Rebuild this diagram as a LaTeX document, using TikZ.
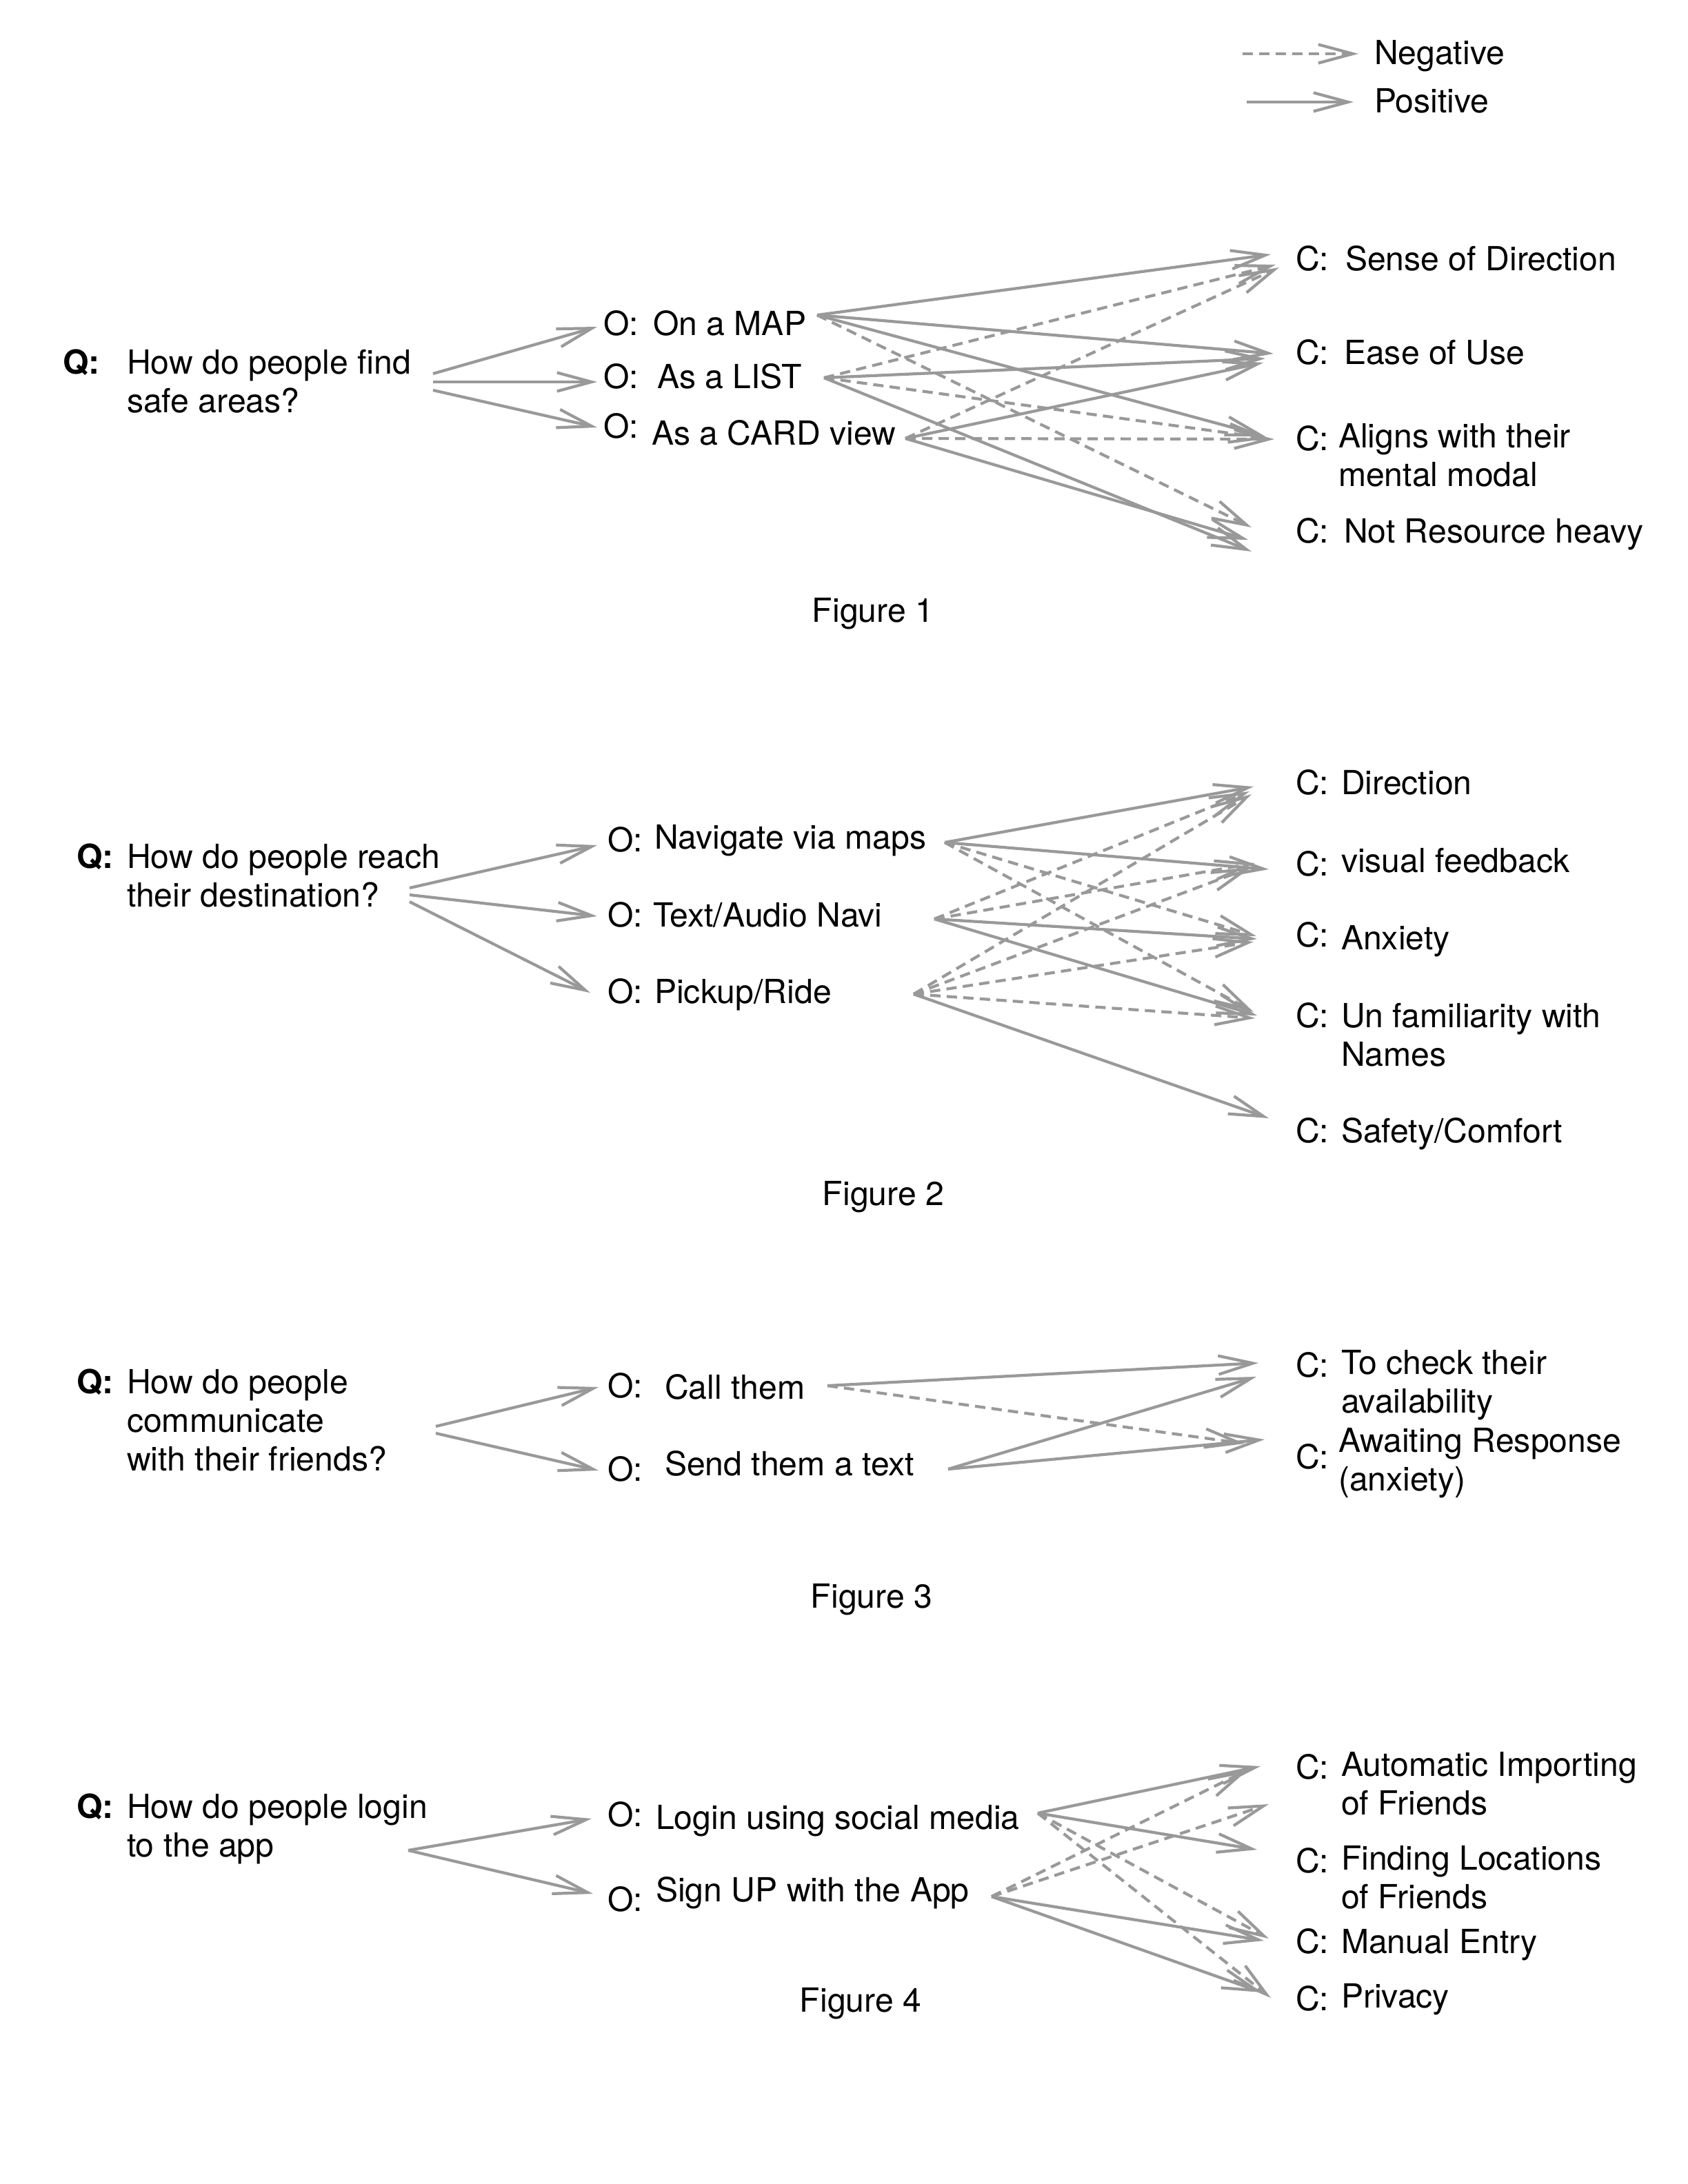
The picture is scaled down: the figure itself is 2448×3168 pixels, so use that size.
\documentclass[tikz,border=0pt]{standalone}
\usepackage{fontspec}
\setmainfont{TeX Gyre Heros}
\usetikzlibrary{arrows.meta,calc}
\definecolor{linkgray}{RGB}{153,153,153}
% several lines in one node, baseline on the first line
\newcommand\cellblock[1]{\begin{tabular}[t]{@{}l@{}}#1\end{tabular}}
\begin{document}
\begin{tikzpicture}[x=0.01cm,y=-0.01cm,
  every node/.style={inner sep=0pt,outer sep=0pt,anchor=base west,
    font=\fontsize{13.7}{16}\selectfont},
  qlabel/.style={font=\fontsize{13.7}{16}\selectfont\bfseries},
  caption/.style={anchor=base},
  posarrow/.style={draw=linkgray,line width=1.2pt,
    -{Straight Barb[length=0.5cm,width=0.27cm]}},
  negarrow/.style={posarrow,dash pattern=on 0.15cm off 0.09cm}]

\fill[white] (0,0) rectangle (2448,3168);
\useasboundingbox (0,0) rectangle (2448,3168);

% ---------- legend ----------
\coordinate (lgnegA) at (1802,78);  \coordinate (lgnegB) at (1970,78);
\coordinate (lgposA) at (1808,148); \coordinate (lgposB) at (1963,148);
\node (lgneg) at (1993,93) {Negative};
\node (lgpos) at (1993,163) {Positive};
\draw[negarrow] (lgnegA) -- (lgnegB);
\draw[posarrow] (lgposA) -- (lgposB);

% ---------- figure 1 ----------
\node[qlabel] (q1l) at (91,542) {Q:};
\node (q1) at (184,542) {\cellblock{How do people find\\safe areas?}};
\node (o1mapl)  at (875,486) {O:}; \node (o1map)  at (947,486) {On a MAP};
\node (o1listl) at (875,563) {O:}; \node (o1list) at (953,563) {As a LIST};
\node (o1cardl) at (875,635) {O:}; \node (o1card) at (945,645) {As a CARD view};
\node (c1sensel) at (1879,392) {C:}; \node (c1sense) at (1951,392) {Sense of Direction};
\node (c1easel)  at (1879,528) {C:}; \node (c1ease)  at (1949,528) {Ease of Use};
\node (c1alignl) at (1879,653) {C:}; \node (c1align) at (1941,649) {\cellblock{Aligns with their\\mental modal}};
\node (c1resl)   at (1879,787) {C:}; \node (c1res)   at (1949,787) {Not Resource heavy};
\node[caption] (fig1) at (1266,902) {Figure 1};

\coordinate (q1o) at (628,554);
\coordinate (o1mapi) at (866,474); \coordinate (o1listi) at (866,554); \coordinate (o1cardi) at (866,620);
\coordinate (o1mapo) at (1185,457); \coordinate (o1listo) at (1195,548); \coordinate (o1cardo) at (1313,636);
\coordinate (c1sensei) at (1843,369); \coordinate (c1easei) at (1847,513);
\coordinate (c1aligni) at (1848,637); \coordinate (c1resi) at (1815,783);

\draw[posarrow] ($(q1o)+(0,-12)$) -- (o1mapi);
\draw[posarrow] (q1o) -- (o1listi);
\draw[posarrow] ($(q1o)+(0,12)$) -- (o1cardi);
\draw[posarrow] (o1mapo) -- (c1sensei);
\draw[posarrow] (o1mapo) -- (c1easei);
\draw[posarrow] (o1mapo) -- ($(c1aligni)+(-13,-4)$);
\draw[negarrow] (o1mapo) -- ($(c1resi)+(0,-18)$);
\draw[negarrow] (o1listo) -- ($(c1sensei)+(7,15)$);
\draw[posarrow] (o1listo) -- ($(c1easei)+(-12,7)$);
\draw[negarrow] (o1listo) -- ($(c1aligni)+(-8,-1)$);
\draw[posarrow] (o1listo) -- ($(c1resi)+(0,17)$);
\draw[negarrow] (o1cardo) -- ($(c1sensei)+(12,19)$);
\draw[posarrow] (o1cardo) -- ($(c1easei)+(-15,13)$);
\draw[negarrow] (o1cardo) -- (c1aligni);
\draw[posarrow] (o1cardo) -- ($(c1resi)+(-5,0)$);

% ---------- figure 2 ----------
\node[qlabel] (q2l) at (111,1259) {Q:};
\node (q2) at (184,1259) {\cellblock{How do people reach\\their destination?}};
\node (o2navl)  at (881,1235) {O:}; \node (o2nav)  at (949,1231) {Navigate via maps};
\node (o2txtl)  at (881,1344) {O:}; \node (o2txt)  at (947,1344) {Text/Audio Navi};
\node (o2pickl) at (881,1455) {O:}; \node (o2pick) at (949,1455) {Pickup/Ride};
\node (c2dirl) at (1879,1152) {C:}; \node (c2dir) at (1945,1152) {Direction};
\node (c2visl) at (1879,1270) {C:}; \node (c2vis) at (1945,1265) {visual feedback};
\node (c2anxl) at (1879,1373) {C:}; \node (c2anx) at (1945,1377) {Anxiety};
\node (c2unfl) at (1879,1490) {C:}; \node (c2unf) at (1945,1490) {\cellblock{Un familiarity with\\Names}};
\node (c2safl) at (1879,1657) {C:}; \node (c2saf) at (1945,1657) {Safety/Comfort};
\node[caption] (fig2) at (1281,1748) {Figure 2};

\coordinate (q2o) at (594,1298);
\coordinate (o2navi) at (866,1226); \coordinate (o2txti) at (866,1329); \coordinate (o2picki) at (856,1440);
\coordinate (o2navo) at (1370,1222); \coordinate (o2txto) at (1355,1333); \coordinate (o2picko) at (1325,1442);
\coordinate (c2diri) at (1818,1141); \coordinate (c2visi) at (1840,1261);
\coordinate (c2anxi) at (1823,1362); \coordinate (c2unfi) at (1823,1473);
\coordinate (c2safi) at (1840,1622);

\draw[posarrow] ($(q2o)+(0,-10)$) -- (o2navi);
\draw[posarrow] (q2o) -- (o2txti);
\draw[posarrow] ($(q2o)+(0,10)$) -- (o2picki);
\draw[posarrow] (o2navo) -- (c2diri);
\draw[posarrow] (o2navo) -- (c2visi);
\draw[negarrow] (o2navo) -- ($(c2anxi)+(-1,-4)$);
\draw[negarrow] (o2navo) -- ($(c2unfi)+(-5,-5)$);
\draw[negarrow] (o2txto) -- ($(c2diri)+(-6,7)$);
\draw[negarrow] (o2txto) -- ($(c2visi)+(-20,-9)$);
\draw[posarrow] (o2txto) -- (c2anxi);
\draw[posarrow] (o2txto) -- (c2unfi);
\draw[negarrow] (o2picko) -- ($(c2diri)+(-3,11)$);
\draw[negarrow] (o2picko) -- ($(c2visi)+(-25,-3)$);
\draw[negarrow] (o2picko) -- ($(c2anxi)+(-5,4)$);
\draw[negarrow] (o2picko) -- ($(c2unfi)+(-3,4)$);
\draw[posarrow] (o2picko) -- (c2safi);

% ---------- figure 3 ----------
\node[qlabel] (q3l) at (111,2021) {Q:};
\node (q3) at (184,2021) {\cellblock{How do people\\communicate\\with their friends?}};
\node (o3calll) at (881,2027) {O:}; \node (o3call) at (964,2029) {Call them};
\node (o3sendl) at (881,2148) {O:}; \node (o3send) at (964,2140) {Send them a text};
\node (c3checkl) at (1879,1997) {C:}; \node (c3check) at (1945,1993) {\cellblock{To check their\\availability}};
\node (c3awaitl) at (1879,2130) {C:}; \node (c3await) at (1941,2106) {\cellblock{Awaiting Response\\(anxiety)}};
\node[caption] (fig3) at (1264,2332) {Figure 3};

\coordinate (q3o) at (632,2074);
\coordinate (o3calli) at (868,2012); \coordinate (o3sendi) at (868,2133);
\coordinate (o3callo) at (1200,2010); \coordinate (o3sendo) at (1375,2131);
\coordinate (c3checki) at (1825,1977); \coordinate (c3awaiti) at (1834,2088);

\draw[posarrow] ($(q3o)+(0,-5)$) -- (o3calli);
\draw[posarrow] ($(q3o)+(0,5)$) -- (o3sendi);
\draw[posarrow] (o3callo) -- (c3checki);
\draw[negarrow] (o3callo) -- ($(c3awaiti)+(-29,6)$);
\draw[posarrow] (o3sendo) -- ($(c3checki)+(-3,20)$);
\draw[posarrow] (o3sendo) -- (c3awaiti);

% ---------- figure 4 ----------
\node[qlabel] (q4l) at (111,2637) {Q:};
\node (q4) at (184,2637) {\cellblock{How do people login\\to the app}};
\node (o4loginl) at (881,2649) {O:}; \node (o4login) at (951,2653) {Login using social media};
\node (o4signl)  at (881,2772) {O:}; \node (o4sign)  at (951,2758) {Sign UP with the App};
\node (c4autol) at (1879,2580) {C:}; \node (c4auto) at (1945,2576) {\cellblock{Automatic Importing\\of Friends}};
\node (c4findl) at (1879,2716) {C:}; \node (c4find) at (1945,2712) {\cellblock{Finding Locations\\of Friends}};
\node (c4manl)  at (1879,2833) {C:}; \node (c4man)  at (1945,2833) {Manual Entry};
\node (c4privl) at (1879,2916) {C:}; \node (c4priv) at (1945,2912) {Privacy};
\node[caption] (fig4) at (1248,2918) {Figure 4};

\coordinate (q4o) at (592,2684);
\coordinate (o4logini) at (858,2638); \coordinate (o4signi) at (860,2747);
\coordinate (o4logino) at (1505,2630); \coordinate (o4signo) at (1438,2751);
\coordinate (c4autoi) at (1828,2562); \coordinate (c4findi) at (1823,2683);
\coordinate (c4mani) at (1840,2812); \coordinate (c4privi) at (1830,2890);

\draw[posarrow] (q4o) -- (o4logini);
\draw[posarrow] (q4o) -- (o4signi);
\draw[posarrow] (o4logino) -- (c4autoi);
\draw[posarrow] (o4logino) -- (c4findi);
\draw[negarrow] (o4logino) -- (c4mani);
\draw[negarrow] (o4logino) -- ($(c4privi)+(13,8)$);
\draw[negarrow] (o4signo) -- ($(c4autoi)+(-18,5)$);
\draw[negarrow] (o4signo) -- ($(c4findi)+(17,-66)$);
\draw[posarrow] (o4signo) -- ($(c4mani)+(-7,3)$);
\draw[posarrow] (o4signo) -- (c4privi);
\end{tikzpicture}
\end{document}
